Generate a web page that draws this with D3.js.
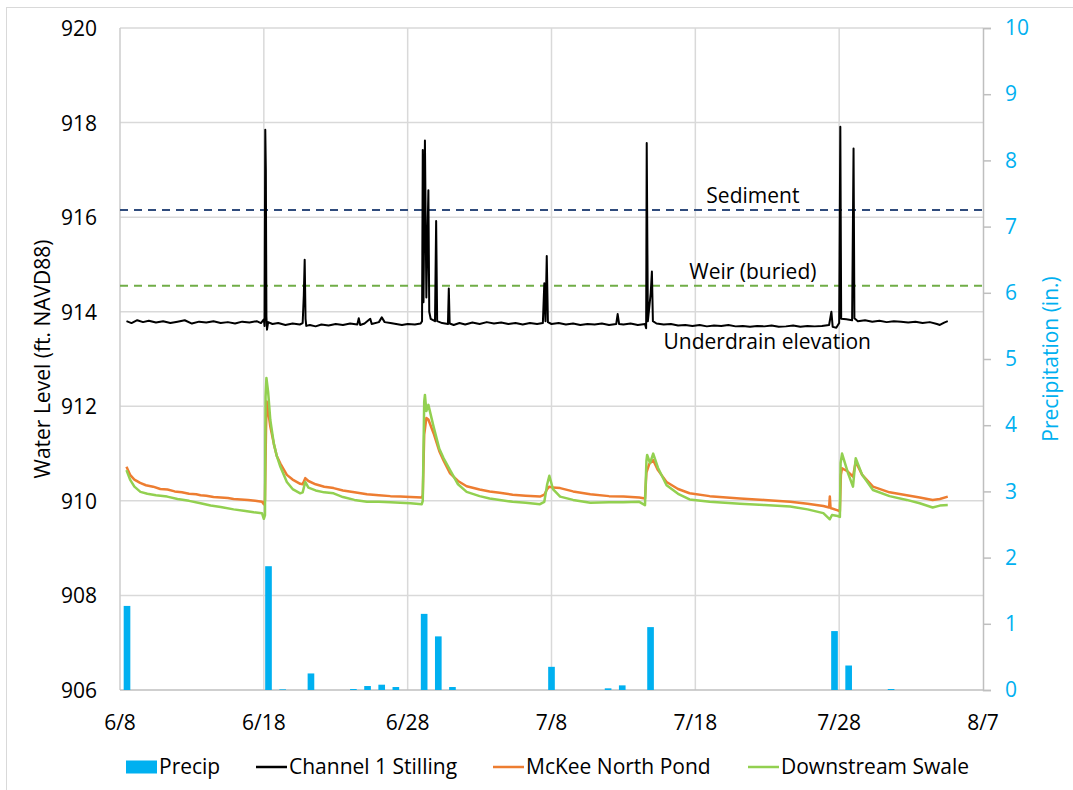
<!DOCTYPE html>
<html>
<head>
<meta charset="utf-8">
<script src="https://cdn.jsdelivr.net/npm/d3@7"></script>
<style>
  body { margin: 0; background: #fff; }
  svg { display: block; font-family: "Segoe UI", "Open Sans", sans-serif; }
</style>
</head>
<body>
<svg id="chart" width="1073" height="790"></svg>
<script>
// ---- data (days counted from 6/8 00:00) ----
var startDate = "6/8";
var endDate = "8/7";
var xTickLabels = ["6/8", "6/18", "6/28", "7/8", "7/18", "7/28", "8/7"];
var levelTicks = [906, 908, 910, 912, 914, 916, 918, 920];
var precipTicks = [0, 1, 2, 3, 4, 5, 6, 7, 8, 9, 10];

var precipDates = ["6/8", "6/18", "6/19", "6/21", "6/24", "6/25", "6/26", "6/27", "6/29", "6/30",
  "7/1", "7/8", "7/12", "7/13", "7/15", "7/28", "7/29", "8/1"];
var precipValues = [1.27, 1.87, 0.01, 0.25, 0.015, 0.06, 0.08, 0.045, 1.15, 0.81,
  0.045, 0.35, 0.025, 0.07, 0.95, 0.89, 0.37, 0.015];

var stilling = [
  [0.45,913.80],[0.8,913.76],[1.2,913.82],[1.6,913.78],[2.0,913.81],[2.5,913.77],[3.0,913.80],[3.5,913.76],
  [4.0,913.79],[4.5,913.82],[5.0,913.75],[5.5,913.79],[6.0,913.77],[6.5,913.80],[7.0,913.76],[7.5,913.78],
  [8.0,913.75],[8.5,913.79],[9.0,913.77],[9.5,913.80],[9.8,913.76],[10.0,913.84],[10.05,913.70],[10.1,917.85],
  [10.14,917.0],[10.18,913.9],[10.22,913.62],[10.3,913.78],[10.6,913.74],[11.0,913.76],[11.5,913.72],[12.0,913.75],
  [12.5,913.73],[12.7,913.76],[12.78,914.35],[12.84,915.1],[12.9,913.85],[12.95,913.70],[13.2,913.72],[13.6,913.69],
  [14.0,913.73],[14.5,913.71],[15.0,913.74],[15.5,913.72],[16.0,913.75],[16.5,913.73],[16.6,913.86],[16.7,913.72],
  [17.0,913.75],[17.4,913.85],[17.5,913.74],[18.0,913.78],[18.2,913.88],[18.4,913.78],[18.8,913.76],[19.2,913.74],
  [19.6,913.72],[20.0,913.74],[20.5,913.73],[20.9,913.75],[21.0,913.80],[21.05,917.42],[21.1,914.2],[21.2,917.62],
  [21.3,914.3],[21.44,916.57],[21.5,914.0],[21.6,913.85],[21.9,913.80],[21.98,915.92],[22.05,913.80],[22.4,913.76],
  [22.8,913.74],[22.86,914.49],[22.92,913.75],[23.2,913.72],[23.6,913.76],[24.0,913.73],[24.5,913.77],[25.0,913.74],
  [25.5,913.78],[26.0,913.75],[26.5,913.77],[27.0,913.74],[27.5,913.76],[28.0,913.73],[28.5,913.76],[29.0,913.74],
  [29.4,913.76],[29.5,914.6],[29.58,913.8],[29.67,915.18],[29.75,913.78],[30.0,913.74],[30.5,913.76],[31.0,913.73],
  [31.5,913.75],[32.0,913.72],[32.5,913.74],[33.0,913.73],[33.5,913.75],[34.0,913.72],[34.5,913.74],[34.6,913.95],
  [34.7,913.74],[35.0,913.73],[35.5,913.75],[36.0,913.72],[36.5,913.74],[36.58,913.65],[36.62,917.57],[36.7,913.8],
  [36.9,914.4],[36.98,914.85],[37.05,913.8],[37.3,913.75],[37.8,913.73],[38.3,913.74],[38.8,913.71],[39.3,913.72],
  [39.8,913.70],[40.3,913.72],[40.8,913.69],[41.3,913.71],[41.8,913.70],[42.3,913.72],[42.8,913.69],[43.3,913.70],
  [43.8,913.68],[44.3,913.70],[44.8,913.69],[45.3,913.71],[45.8,913.68],[46.3,913.69],[46.8,913.71],[47.3,913.68],
  [47.8,913.70],[48.3,913.69],[48.8,913.70],[49.3,913.72],[49.46,914.0],[49.55,913.68],[49.8,913.66],[50.0,913.76],
  [50.08,917.91],[50.14,913.85],[50.5,913.84],[50.9,913.82],[51.0,917.45],[51.06,913.86],[51.3,913.80],[51.8,913.82],
  [52.3,913.79],[52.8,913.81],[53.3,913.78],[53.8,913.80],[54.3,913.79],[54.8,913.77],[55.3,913.79],[55.8,913.76],
  [56.3,913.78],[56.8,913.74],[57.0,913.72],[57.3,913.77],[57.55,913.80]
];

var mckee = [
  [0.45,910.72],[0.7,910.55],[1.0,910.45],[1.4,910.38],[1.8,910.33],[2.3,910.30],[2.8,910.25],[3.3,910.24],
  [3.8,910.20],[4.3,910.18],[4.8,910.15],[5.3,910.14],[5.6,910.12],[6.0,910.11],[6.5,910.08],[7.0,910.07],
  [7.5,910.06],[7.9,910.04],[8.4,910.03],[8.9,910.02],[9.4,910.00],[9.87,909.98],[10.0,909.93],[10.08,910.02],
  [10.15,911.5],[10.2,912.1],[10.3,911.9],[10.45,911.57],[10.7,911.2],[10.9,910.95],[11.15,910.79],[11.6,910.55],
  [12.0,910.45],[12.53,910.36],[12.7,910.35],[12.88,910.48],[13.1,910.42],[13.6,910.35],[14.2,910.30],[14.85,910.27],
  [15.5,910.22],[16.3,910.18],[17.17,910.14],[18.0,910.12],[18.8,910.10],[19.48,910.09],[20.2,910.08],[20.98,910.07],
  [21.05,910.12],[21.15,911.4],[21.3,911.75],[21.44,911.72],[21.8,911.43],[22.2,911.05],[22.5,910.85],[22.95,910.58],
  [23.5,910.42],[24.1,910.31],[25.0,910.24],[25.7,910.20],[26.4,910.17],[27.3,910.13],[28.2,910.11],[29.2,910.09],
  [29.5,910.13],[29.7,910.25],[29.85,910.30],[30.1,910.28],[30.6,910.27],[31.5,910.20],[32.7,910.14],[34.0,910.10],
  [35.0,910.09],[36.1,910.07],[36.5,910.05],[36.6,910.6],[36.8,910.78],[37.07,910.86],[37.4,910.65],[38.0,910.40],
  [38.8,910.25],[39.6,910.16],[41.0,910.10],[43.1,910.05],[44.8,910.02],[46.6,909.98],[47.8,909.94],[48.9,909.89],
  [49.3,909.86],[49.35,910.09],[49.4,909.85],[49.9,909.80],[50.05,909.78],[50.12,910.55],[50.2,910.69],[50.6,910.62],
  [50.96,910.51],[51.15,910.83],[51.6,910.55],[52.35,910.30],[53.5,910.18],[54.7,910.12],[55.6,910.07],[56.5,910.02],
  [57.0,910.04],[57.55,910.09]
];

var swale = [
  [0.45,910.65],[0.7,910.45],[1.0,910.30],[1.42,910.19],[1.9,910.15],[2.5,910.12],[3.28,910.09],[4.0,910.04],
  [4.8,910.00],[5.6,909.95],[6.3,909.90],[7.0,909.87],[7.9,909.82],[8.6,909.79],[9.3,909.76],[9.87,909.74],
  [10.0,909.62],[10.08,909.7],[10.12,912.2],[10.18,912.6],[10.3,912.3],[10.45,911.71],[10.7,911.2],[10.9,910.95],
  [11.15,910.72],[11.6,910.40],[12.0,910.25],[12.53,910.16],[12.7,910.18],[12.88,910.40],[13.1,910.28],[13.6,910.22],
  [14.2,910.18],[14.85,910.16],[15.5,910.08],[16.3,910.02],[17.17,909.98],[18.0,909.98],[18.8,909.97],[19.48,909.96],
  [20.2,909.95],[20.98,909.93],[21.05,910.0],[21.15,912.1],[21.2,912.24],[21.3,911.9],[21.44,912.03],[21.8,911.57],
  [22.2,911.1],[22.5,910.9],[22.95,910.65],[23.5,910.35],[24.1,910.19],[25.0,910.10],[25.7,910.05],[26.4,910.02],
  [27.3,909.98],[28.2,909.96],[29.2,909.93],[29.5,909.98],[29.7,910.35],[29.85,910.53],[30.1,910.25],[30.6,910.09],
  [31.5,910.02],[32.7,909.96],[34.0,909.97],[35.0,909.97],[36.1,909.98],[36.5,909.91],[36.6,910.85],[36.65,910.97],
  [36.85,910.80],[37.07,911.0],[37.4,910.70],[38.0,910.33],[38.8,910.15],[39.6,910.03],[41.0,909.98],[43.1,909.94],
  [44.8,909.91],[46.6,909.88],[47.8,909.82],[48.9,909.74],[49.35,909.61],[49.5,909.7],[49.9,909.68],[50.05,909.66],
  [50.1,910.8],[50.2,911.0],[50.6,910.6],[50.96,910.30],[51.15,910.9],[51.6,910.55],[52.35,910.23],[53.5,910.10],
  [54.7,910.02],[55.6,909.95],[56.5,909.86],[57.0,909.90],[57.55,909.91]
];

var refLines = [
  { name: "Sediment", value: 916.15, color: "#2f4b7c", labelAt: "7/22" },
  { name: "Weir (buried)", value: 914.55, color: "#70ad47", labelAt: "7/22" }
];
var underdrainLabel = { name: "Underdrain elevation", value: 913.75, labelAt: "7/23" };

var seriesInfo = [
  { name: "Channel 1 Stilling", data: stilling, color: "#000000", width: 2 },
  { name: "McKee North Pond", data: mckee, color: "#ed7d31", width: 2.5 },
  { name: "Downstream Swale", data: swale, color: "#92d050", width: 2.5 }
];

// ---- layout ----
var margin = { left: 120, right: 90, top: 28, bottom: 100 };
var W = 1073, H = 790;
var plotW = W - margin.left - margin.right;
var plotH = H - margin.top - margin.bottom;

var parseMD = d3.timeParse("%m/%d");
var t0 = parseMD(startDate), t1 = parseMD(endDate);
function dayToDate(d) { return new Date(t0.getTime() + d * 864e5); }

var svg = d3.select("#chart");

svg.append("rect")
  .attr("x", 6.5).attr("y", 7.5)
  .attr("width", 1100).attr("height", 800)
  .attr("fill", "none").attr("stroke", "#d9d9d9");

var g = svg.append("g").attr("transform", "translate(" + margin.left + "," + margin.top + ")");

var x = d3.scaleTime().domain([t0, t1]).range([0, plotW]);
var yL = d3.scaleLinear().domain([906, 920]).range([plotH, 0]);
var yR = d3.scaleLinear().domain([0, 10]).range([plotH, 0]);

var allDays = d3.timeDay.range(t0, d3.timeDay.offset(t1, 1));
var band = d3.scaleBand().domain(allDays.map(function(d){ return +d; }))
  .range([0, plotW]).paddingInner(0.53).paddingOuter(0.26);

var FONT = 21;

// gridlines
g.append("g").selectAll("line.h").data(levelTicks.slice(1))
  .enter().append("line")
  .attr("x1", 0).attr("x2", plotW)
  .attr("y1", function(d){ return yL(d); }).attr("y2", function(d){ return yL(d); })
  .attr("stroke", "#d9d9d9").attr("stroke-width", 1.5);

var xTickDates = xTickLabels.map(parseMD);
g.append("g").selectAll("line.v").data(xTickDates.slice(1, -1))
  .enter().append("line")
  .attr("x1", function(d){ return x(d); }).attr("x2", function(d){ return x(d); })
  .attr("y1", 0).attr("y2", plotH)
  .attr("stroke", "#d9d9d9").attr("stroke-width", 1.5);

// axes frame
g.append("line").attr("x1", 0).attr("x2", 0).attr("y1", 0).attr("y2", plotH)
  .attr("stroke", "#cccccc").attr("stroke-width", 1.5);
g.append("line").attr("x1", 0).attr("x2", plotW).attr("y1", plotH).attr("y2", plotH)
  .attr("stroke", "#bfbfbf").attr("stroke-width", 1.5);

// right axis
var rightAxis = d3.axisRight(yR).tickValues(precipTicks).tickSize(8).tickPadding(14)
  .tickFormat(d3.format("d"));
var ra = g.append("g").attr("transform", "translate(" + plotW + ",0)").call(rightAxis);
ra.select(".domain").attr("stroke", "#bfbfbf").attr("stroke-width", 1.5);
ra.selectAll(".tick line").attr("stroke", "#bfbfbf").attr("stroke-width", 1.5);
ra.selectAll(".tick text").attr("fill", "#00b0f0").style("font-size", FONT + "px")
  .style("font-family", "'Segoe UI','Open Sans',sans-serif");

// left axis labels
g.append("g").selectAll("text").data(levelTicks)
  .enter().append("text")
  .attr("x", -23).attr("y", function(d){ return yL(d); })
  .attr("dy", "0.38em")
  .attr("text-anchor", "end")
  .style("font-size", FONT + "px").attr("fill", "#000")
  .text(function(d){ return d; });

// x labels
g.append("g").selectAll("text").data(xTickDates)
  .enter().append("text")
  .attr("x", function(d){ return x(d); }).attr("y", plotH + 33)
  .attr("dy", "0.35em")
  .attr("text-anchor", "middle")
  .style("font-size", FONT + "px").attr("fill", "#000")
  .text(function(d, i){ return xTickLabels[i]; });

// precip bars
var precipByDay = {};
precipDates.forEach(function(d, i){ precipByDay[+parseMD(d)] = precipValues[i]; });
g.append("g").selectAll("rect").data(allDays.filter(function(d){ return precipByDay[+d] !== undefined; }))
  .enter().append("rect")
  .attr("x", function(d){ return band(+d); })
  .attr("width", band.bandwidth())
  .attr("y", function(d){ return yR(precipByDay[+d]); })
  .attr("height", function(d){ return plotH - yR(precipByDay[+d]); })
  .attr("fill", "#00b0f0");

// reference lines
refLines.forEach(function(r){
  g.append("line")
    .attr("x1", 0).attr("x2", plotW)
    .attr("y1", yL(r.value)).attr("y2", yL(r.value))
    .attr("stroke", r.color).attr("stroke-width", 2)
    .attr("stroke-dasharray", "8,6");
  g.append("text")
    .attr("x", x(parseMD(r.labelAt))).attr("y", yL(r.value) - 7)
    .attr("text-anchor", "middle")
    .style("font-size", FONT + "px")
    .text(r.name);
});
g.append("text")
  .attr("x", x(parseMD(underdrainLabel.labelAt))).attr("y", yL(underdrainLabel.value) + 25)
  .attr("text-anchor", "middle")
  .style("font-size", FONT + "px")
  .text(underdrainLabel.name);

// series lines
var line = d3.line()
  .x(function(d){ return x(dayToDate(d[0])); })
  .y(function(d){ return yL(d[1]); });

seriesInfo.forEach(function(s){
  g.append("path").datum(s.data)
    .attr("d", line)
    .attr("fill", "none")
    .attr("stroke", s.color)
    .attr("stroke-width", s.width)
    .attr("stroke-linejoin", "round");
});

// axis titles
svg.append("text")
  .attr("transform", "translate(50," + (margin.top + plotH / 2) + ") rotate(-90)")
  .attr("text-anchor", "middle")
  .style("font-size", FONT + "px")
  .text("Water Level (ft. NAVD88)");
svg.append("text")
  .attr("transform", "translate(1058," + (margin.top + plotH / 2) + ") rotate(-90)")
  .attr("text-anchor", "middle")
  .attr("fill", "#00b0f0")
  .style("font-size", FONT + "px")
  .text("Precipitation (in.)");

// legend
var legendItems = [{ name: "Precip", color: "#00b0f0", box: true }].concat(
  seriesInfo.map(function(s){ return { name: s.name, color: s.color, box: false }; }));
var legendX = [126, 256, 493, 748];
var ly = 767;
legendItems.forEach(function(it, i){
  var lg = svg.append("g").attr("transform", "translate(" + legendX[i] + "," + ly + ")");
  if (it.box) {
    lg.append("rect").attr("x", 0).attr("y", -6.5).attr("width", 31).attr("height", 13).attr("fill", it.color);
  } else {
    lg.append("line").attr("x1", 0).attr("x2", 31).attr("y1", 0).attr("y2", 0)
      .attr("stroke", it.color).attr("stroke-width", 2.5);
  }
  lg.append("text").attr("x", 33).attr("y", 0).attr("dy", "0.35em")
    .style("font-size", FONT + "px").text(it.name);
});
</script>
</body>
</html>
